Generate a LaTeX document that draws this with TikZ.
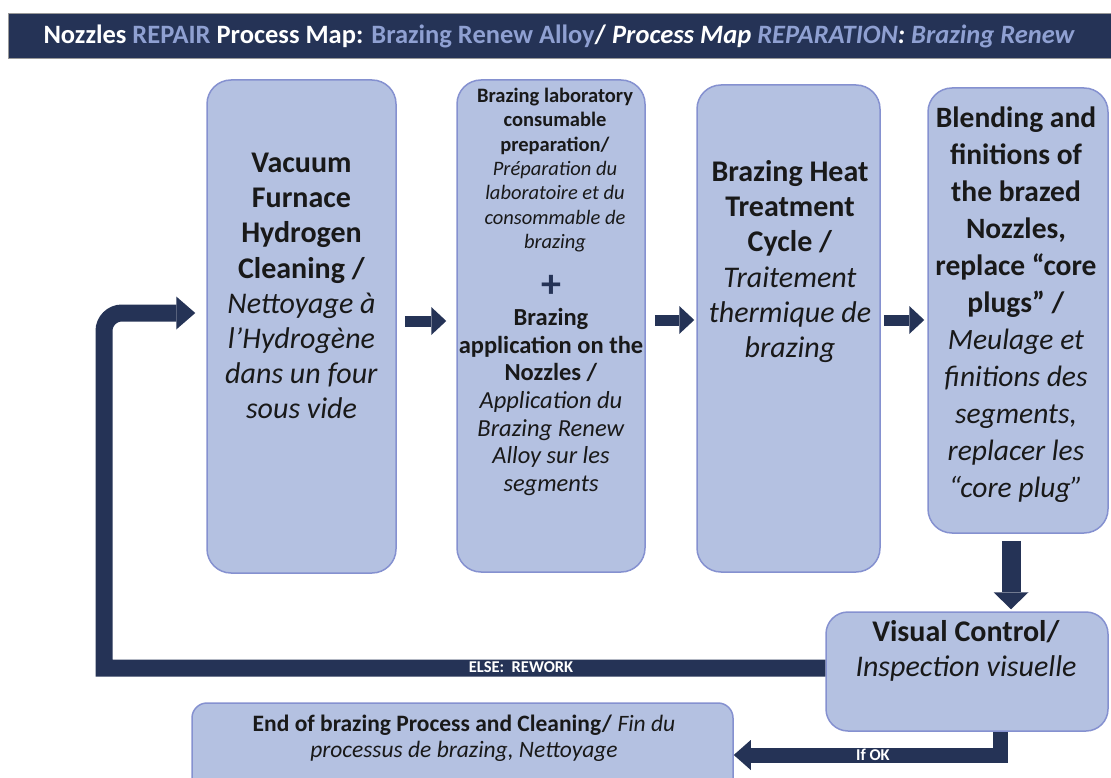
\documentclass[tikz,border=0pt]{standalone}
\usepackage{fontspec}
\setmainfont{Carlito}
\usetikzlibrary{arrows.meta, positioning, calc}
\definecolor{mNavy}{HTML}{253356}
\definecolor{mBoxFill}{HTML}{B4C1E1}
\definecolor{mBoxLine}{HTML}{8591D0}
\definecolor{mTitleLight}{HTML}{8FA0D2}

\begin{document}
\begin{tikzpicture}[
    x=1pt, y=-1pt,
    stepbox/.style={draw=mBoxLine, line width=1.5pt, fill=mBoxFill,
                    rounded corners=24pt, inner sep=0pt},
    bigtxt/.style={align=center, text=black!90, font=\fontsize{30}{35.2}\selectfont},
    smalltxt/.style={align=center, text=black!90, font=\fontsize{20.5}{24.3}\selectfont},
    midtxt/.style={align=center, text=black!90, font=\fontsize{24.5}{27.7}\selectfont},
    endtxt/.style={align=center, text=black!90, font=\fontsize{23.5}{26}\selectfont},
    flowarrow/.style={draw=mNavy, line width=11pt,
                      -{Triangle[length=15pt, width=28pt, line width=0pt]}},
    barlabel/.style={text=white, font=\bfseries\fontsize{16.5}{18}\selectfont, inner sep=1pt},
  ]
    \clip (0,0) rectangle (1111,778);
    % title bar
    \node[draw=black!40, fill=mNavy, minimum width=1110pt, minimum height=45pt,
          inner sep=0pt] (titlebar) at (563,35.5) {};
    \node[anchor=west, text=white, font=\bfseries\fontsize{26.5}{30}\selectfont] (titletxt) at (40,36)
      {Nozzles \textcolor{mTitleLight}{REPAIR} Process Map: \textcolor{mTitleLight}{Brazing Renew Alloy}/
       \textit{Process Map \textcolor{mTitleLight}{REPARATION}: \textcolor{mTitleLight}{Brazing Renew}}};

    % process boxes
    \node[stepbox, minimum width=189pt, minimum height=493pt] (clean) at (301.5,326.5) {};
    \node[stepbox, minimum width=188pt, minimum height=492pt] (prep)  at (551,326) {};
    \node[stepbox, minimum width=183pt, minimum height=487pt] (heat)  at (788.5,328.5) {};
    \node[stepbox, minimum width=180pt, minimum height=445pt] (blend) at (1018,310.5) {};
    \node[stepbox, minimum width=282pt, minimum height=119pt, rounded corners=22pt] (check) at (967,671.5) {};
    \node[stepbox, minimum width=541pt, minimum height=92pt, rounded corners=15pt] (endbox) at (462.5,749) {};

    % connectors
    \draw[flowarrow] ([xshift=8pt]clean.east |- 0,321) -- ([xshift=-10pt]prep.west |- 0,321);
    \draw[flowarrow] ([xshift=9pt]prep.east |- 0,320) -- ([xshift=-2pt]heat.west |- 0,320);
    \draw[flowarrow] ([xshift=3pt]heat.east |- 0,320) -- ([xshift=-3pt]blend.west |- 0,320);
    \draw[flowarrow, line width=19pt, -{Triangle[length=17pt, width=35pt, line width=0pt]}]
      ([yshift=-7pt]blend.south -| 1011,0) -- ([yshift=2pt]check.north -| 1011,0);
    \draw[flowarrow, line width=17pt, -{Triangle[length=19pt, width=33pt, line width=0pt]}]
      (check.west |- 0,668) -- (104,668) [rounded corners=18pt] -- (104,313)
      -- ([xshift=-11pt]clean.west |- 0,313);
    \draw[flowarrow, line width=15pt, -{Triangle[length=17pt, width=30pt, line width=0pt]}]
      (check.south -| 1000,0) -- (1000,755) -- (endbox.east |- 0,755);
    \node[barlabel] (elselbl) at (521,667) {ELSE:~~REWORK};
    \node[barlabel] (oklbl) at (873,755) {If OK};

    % box texts
    \node[bigtxt] (cleantxt) at (301.5,286)
      {\textbf{Vacuum}\\\textbf{Furnace}\\\textbf{Hydrogen}\\\textbf{Cleaning /}\\
       \textit{Nettoyage à}\\\textit{l’Hydrogène}\\\textit{dans un four}\\\textit{sous vide}};
    \node[smalltxt] (preptxt) at (555,170)
      {\textbf{Brazing laboratory}\\\textbf{consumable}\\\textbf{preparation/}\\
       \textit{Préparation du}\\\textit{laboratoire et du}\\\textit{consommable de}\\\textit{brazing}};
    \node[text=mNavy, font=\bfseries\fontsize{40}{40}\selectfont] (plus) at (551,286) {+};
    \node[midtxt] (applytxt) at (551,402)
      {\textbf{Brazing}\\\textbf{application on the}\\\textbf{Nozzles /}\\
       \textit{Application du}\\\textit{Brazing Renew}\\\textit{Alloy sur les}\\\textit{segments}};
    \node[bigtxt] (heattxt) at (790,261.5)
      {\textbf{Brazing Heat}\\\textbf{Treatment}\\\textbf{Cycle /}\\
       \textit{Traitement}\\\textit{thermique de}\\\textit{brazing}};
    \node[bigtxt, font=\fontsize{29.5}{37}\selectfont] (blendtxt) at (1016,305)
      {\textbf{Blending and}\\\textbf{finitions of}\\\textbf{the brazed}\\\textbf{Nozzles,}\\
       \textbf{replace “core}\\\textbf{plugs” /}\\\textit{Meulage et}\\\textit{finitions des}\\
       \textit{segments,}\\\textit{replacer les}\\\textit{“core plug”}};
    \node[bigtxt, font=\fontsize{30}{35}\selectfont] (checktxt) at (966,651)
      {\textbf{Visual Control/}\\\textit{Inspection visuelle}};
    \node[endtxt] (endtxt) at (464,738)
      {\textbf{End of brazing Process and Cleaning/} \textit{Fin du}\\\textit{processus de brazing, Nettoyage}};
  \end{tikzpicture}
\end{document}
